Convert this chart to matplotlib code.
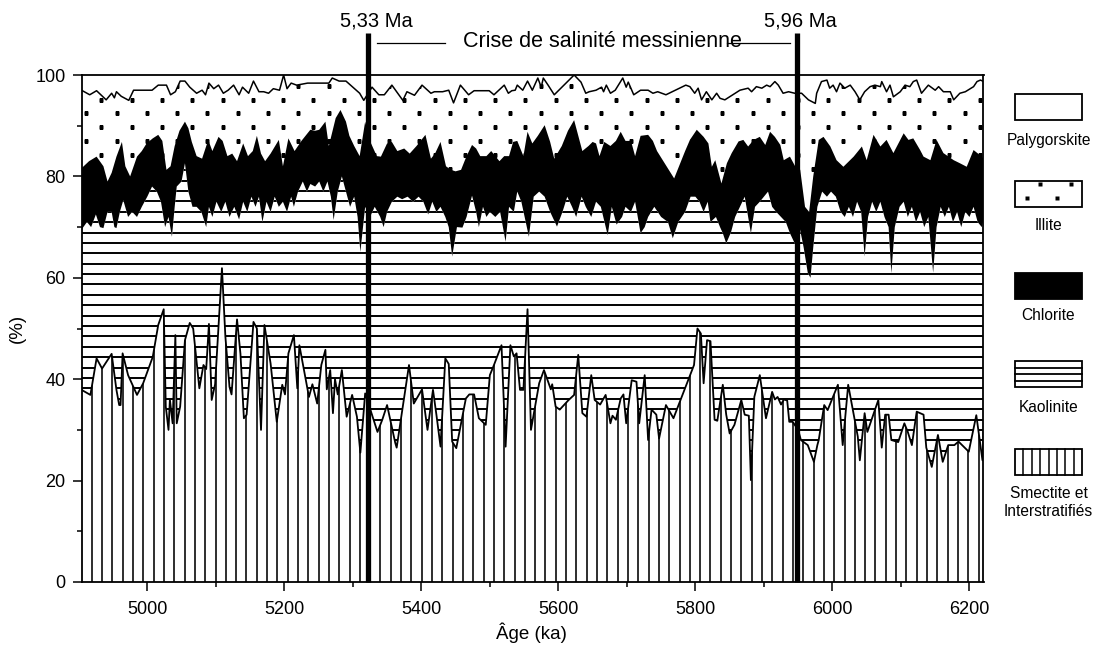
import numpy as np
import matplotlib
matplotlib.use("Agg")
from matplotlib import pyplot as plt
from matplotlib.lines import Line2D
from matplotlib.patches import Rectangle
from matplotlib.ticker import MultipleLocator

plt.rcParams['font.family'] = ['Liberation Sans', 'DejaVu Sans']

# cumulative percentages (top of each layer)
# smectite + interstratifies
smectite = [
    (4904, 37.9), (4917, 36.9), (4926, 44.1), (4934, 42.1), (4948, 45.0), (4955, 37.9), (4959, 34.9),
    (4961, 34.9), (4964, 45.1), (4972, 40.8), (4985, 36.9), (4994, 39.2), (5008, 44.4), (5016, 50.7),
    (5024, 53.8), (5027, 34.6), (5031, 30.0), (5033, 36.0), (5037, 31.3), (5041, 48.7), (5043, 31.3),
    (5048, 34.6), (5055, 47.7), (5062, 51.1), (5067, 50.0), (5076, 38.2), (5082, 42.8), (5086, 42.0),
    (5090, 50.9), (5094, 35.9), (5099, 39.0), (5109, 61.9), (5114, 48.4), (5120, 38.5), (5123, 37.0),
    (5131, 51.8), (5136, 45.0), (5141, 32.3), (5145, 33.0), (5155, 51.3), (5160, 50.0), (5166, 30.0),
    (5171, 50.7), (5180, 43.1), (5189, 31.6), (5197, 38.9), (5201, 37.0), (5206, 45.1), (5214, 48.7),
    (5219, 38.2), (5222, 46.7), (5236, 36.5), (5241, 39.0), (5248, 35.2), (5254, 42.8), (5260, 45.8),
    (5262, 38.0), (5267, 41.8), (5271, 33.3), (5274, 40.0), (5278, 37.0), (5284, 41.8), (5291, 32.6),
    (5299, 36.9), (5306, 32.6), (5311, 25.5), (5318, 37.2), (5328, 33.0), (5336, 29.6), (5343, 32.0),
    (5350, 34.9), (5362, 27.4), (5364, 26.5), (5382, 42.8), (5389, 35.2), (5401, 38.0), (5409, 30.0),
    (5417, 37.9), (5422, 33.0), (5428, 26.7), (5435, 44.1), (5440, 43.0), (5445, 27.7), (5451, 26.4),
    (5465, 36.2), (5470, 37.0), (5477, 37.0), (5484, 32.3), (5494, 31.0), (5500, 40.8), (5506, 42.8),
    (5517, 46.7), (5523, 26.7), (5530, 46.7), (5535, 44.5), (5539, 45.1), (5544, 37.9), (5549, 37.9),
    (5555, 53.8), (5560, 30.0), (5572, 39.2), (5579, 41.8), (5589, 38.0), (5591, 39.0), (5596, 34.6),
    (5602, 34.0), (5615, 35.9), (5623, 36.9), (5629, 44.8), (5635, 33.3), (5641, 32.6), (5648, 40.8),
    (5653, 35.9), (5661, 35.0), (5669, 36.9), (5676, 31.3), (5679, 32.8), (5684, 32.0), (5691, 36.2),
    (5695, 37.0), (5699, 31.3), (5707, 39.8), (5714, 39.5), (5718, 31.3), (5726, 40.8), (5731, 28.0),
    (5736, 34.0), (5743, 33.0), (5747, 28.3), (5757, 34.9), (5768, 32.3), (5798, 42.8), (5803, 50.0),
    (5808, 49.0), (5812, 39.2), (5817, 47.7), (5822, 47.5), (5828, 32.0), (5832, 31.8), (5840, 38.9),
    (5845, 33.0), (5850, 29.3), (5857, 31.0), (5867, 35.9), (5872, 33.0), (5878, 32.8), (5881, 20.1),
    (5886, 36.5), (5894, 40.8), (5903, 32.3), (5912, 37.5), (5916, 36.0), (5920, 36.5), (5925, 35.0),
    (5929, 36.0), (5934, 35.8), (5937, 31.6), (5942, 31.6), (5950, 30.0), (5954, 28.0), (5964, 27.0),
    (5973, 23.7), (5978, 27.0), (5980, 28.0), (5988, 34.9), (5993, 33.9), (6008, 38.9), (6015, 27.0),
    (6023, 38.9), (6037, 28.7), (6040, 24.0), (6047, 33.3), (6051, 29.6), (6067, 35.9), (6072, 26.5),
    (6077, 33.0), (6082, 33.0), (6086, 28.0), (6096, 27.6), (6105, 31.3), (6110, 29.6), (6116, 27.0),
    (6123, 33.6), (6128, 33.3), (6133, 33.0), (6137, 26.5), (6145, 22.7), (6154, 29.0), (6161, 23.7),
    (6169, 27.0), (6178, 27.0), (6184, 27.7), (6199, 25.7), (6210, 32.9), (6219, 24.0), (6221, 31.0),
]

# + kaolinite
kaolinite = [
    (4904, 69.5), (4912, 71), (4918, 70), (4925, 72.5), (4931, 70), (4936, 69.8), (4942, 73), (4948, 73),
    (4952, 70), (4955, 69.8), (4960, 73), (4965, 75.3), (4972, 72), (4978, 73), (4985, 72), (4992, 74),
    (5000, 76), (5007, 78), (5014, 77), (5020, 75), (5026, 70), (5031, 72), (5036, 68.1), (5040, 74),
    (5043, 78), (5050, 79), (5055, 82.6), (5060, 77), (5066, 74), (5072, 74), (5079, 73), (5086, 70),
    (5090, 74), (5095, 72), (5101, 75), (5108, 73), (5114, 75), (5120, 72), (5127, 74), (5134, 71.5),
    (5140, 75), (5146, 73), (5152, 76), (5158, 74), (5163, 76), (5168, 71), (5174, 75), (5180, 73),
    (5186, 76), (5192, 74), (5198, 75), (5204, 73), (5210, 76), (5214, 74), (5220, 77), (5227, 79),
    (5233, 77), (5238, 78.5), (5245, 78), (5251, 79), (5257, 77), (5263, 79), (5268, 76), (5272, 71.4),
    (5278, 77), (5284, 80), (5290, 77), (5296, 74), (5302, 76), (5307, 72), (5311, 65.1), (5318, 74),
    (5325, 72), (5332, 74), (5340, 72), (5345, 70), (5350, 73), (5357, 75), (5365, 76), (5372, 75.5),
    (5380, 76), (5388, 75), (5396, 76), (5403, 75), (5410, 72.5), (5416, 75), (5422, 73), (5428, 74),
    (5435, 72), (5440, 70), (5445, 64.2), (5452, 70), (5460, 69.9), (5466, 72), (5474, 76.2), (5480, 73),
    (5484, 70), (5490, 74), (5495, 72), (5500, 73), (5508, 72), (5515, 73), (5523, 67.1), (5528, 74),
    (5535, 73), (5540, 77), (5546, 75), (5557, 68.1), (5564, 76), (5572, 77), (5580, 76), (5588, 73),
    (5598, 70.1), (5606, 73), (5613, 76), (5620, 74), (5626, 72), (5634, 76), (5640, 74), (5648, 72),
    (5655, 75), (5662, 74), (5672, 68.4), (5678, 74), (5685, 70.5), (5693, 72), (5698, 74), (5706, 73),
    (5712, 75), (5720, 68.8), (5726, 70), (5731, 72), (5740, 74), (5750, 72), (5760, 71), (5767, 67.8),
    (5775, 71), (5785, 73), (5793, 76), (5800, 76), (5806, 75), (5812, 73), (5818, 75), (5822, 71),
    (5830, 72), (5836, 70), (5840, 68.8), (5845, 66.8), (5852, 69), (5858, 72), (5865, 74), (5872, 76),
    (5881, 68.8), (5887, 74), (5894, 75), (5900, 76), (5906, 77), (5912, 74), (5918, 73), (5925, 72),
    (5932, 71), (5938, 68.8), (5947, 66.2), (5952, 70), (5958, 66), (5964, 61), (5968, 60), (5972, 66),
    (5978, 74), (5985, 77), (5992, 76), (5998, 77), (6005, 76), (6012, 73), (6018, 72), (6024, 74),
    (6030, 72), (6036, 75), (6042, 73), (6047, 64.2), (6052, 72), (6058, 75), (6064, 73), (6070, 75),
    (6076, 72), (6082, 70), (6086, 60.9), (6091, 70), (6098, 74), (6104, 75), (6110, 72), (6116, 74),
    (6122, 71), (6128, 73), (6134, 70), (6140, 72), (6147, 61), (6152, 70), (6158, 74), (6164, 72),
    (6170, 74), (6176, 71), (6182, 73), (6188, 70), (6194, 73), (6200, 72), (6206, 74), (6212, 71),
    (6218, 70), (6221, 72),
]

# + chlorite
chlorite = [
    (4904, 81.6), (4915, 83), (4926, 83.9), (4936, 82), (4942, 79), (4948, 80.7), (4955, 83.9),
    (4963, 86.8), (4968, 82), (4975, 80), (4985, 83.9), (4992, 85), (4999, 86.5), (5008, 87.5),
    (5016, 88.2), (5022, 87), (5028, 81.3), (5034, 82), (5040, 86), (5047, 89), (5055, 90.8),
    (5060, 89.5), (5065, 86.8), (5072, 84), (5080, 83.5), (5089, 87.2), (5095, 85), (5104, 87.8),
    (5110, 87), (5117, 84), (5124, 84.5), (5131, 83), (5140, 86.5), (5147, 84), (5154, 85), (5160, 88),
    (5166, 84.5), (5172, 83), (5180, 84.5), (5192, 87.2), (5198, 82), (5206, 87.5), (5215, 85),
    (5225, 87), (5238, 89.2), (5245, 89), (5251, 89.2), (5260, 90.8), (5265, 86), (5275, 91.5),
    (5282, 93.1), (5290, 90.8), (5295, 88), (5302, 86), (5310, 84), (5318, 90.8), (5325, 87),
    (5335, 84), (5341, 83.9), (5350, 86.5), (5357, 86.8), (5365, 85), (5375, 85.5), (5383, 84.5),
    (5393, 86), (5406, 88.2), (5414, 83.5), (5420, 84.5), (5428, 86.8), (5436, 82), (5443, 81.3),
    (5450, 81), (5458, 81.3), (5466, 84), (5474, 86.2), (5480, 85.5), (5486, 84), (5495, 84),
    (5502, 85), (5508, 84), (5514, 83), (5521, 84), (5528, 84), (5534, 86.8), (5540, 87), (5549, 84),
    (5555, 88.8), (5562, 86.5), (5570, 88), (5580, 90.1), (5588, 86.8), (5594, 83.5), (5605, 86),
    (5614, 89), (5623, 91.1), (5635, 85), (5644, 86), (5650, 86.8), (5655, 86.5), (5660, 84),
    (5667, 86.8), (5676, 86), (5684, 87), (5691, 88.8), (5698, 87), (5706, 87), (5712, 84), (5720, 88),
    (5731, 88.2), (5738, 87), (5744, 85), (5769, 79.6), (5785, 85), (5792, 87.2), (5802, 89.2),
    (5812, 87.8), (5819, 86.5), (5824, 81.9), (5829, 83.2), (5838, 78.6), (5846, 82.6), (5853, 84.6),
    (5863, 86.9), (5870, 87.2), (5877, 85.9), (5885, 87.2), (5894, 87.8), (5902, 86.2), (5909, 88.8),
    (5916, 87.8), (5924, 86.2), (5929, 83.2), (5938, 83.9), (5946, 81.9), (5953, 81.3), (5960, 74),
    (5966, 73), (5972, 80), (5980, 87.2), (5987, 87.8), (5997, 85.9), (6006, 83.2), (6016, 81.9),
    (6031, 83.9), (6043, 85.9), (6050, 83.2), (6060, 88.2), (6070, 85.9), (6079, 87.2), (6089, 84.6),
    (6104, 88.5), (6111, 87.2), (6118, 87.5), (6128, 85.2), (6133, 83.9), (6143, 83.2), (6152, 87.2),
    (6162, 84.6), (6177, 83.2), (6186, 82.6), (6196, 81.9), (6206, 85.2), (6218, 83.9), (6221, 83.5),
]

# + illite (palygorskite fills the rest up to 100)
illite = [
    (4904, 97.0), (4916, 96.1), (4926, 96.9), (4940, 95.1), (4948, 96.4), (4952, 95.5), (4955, 96.7),
    (4962, 95.8), (4973, 95.0), (4980, 97.0), (5007, 97.0), (5016, 98.0), (5028, 98.0), (5034, 96.1),
    (5041, 96.7), (5048, 98.8), (5055, 98.8), (5062, 97.6), (5072, 96.4), (5080, 97.0), (5085, 96.1),
    (5090, 98.4), (5097, 97.3), (5104, 98.0), (5111, 96.4), (5118, 97.0), (5126, 98.0), (5134, 96.1),
    (5139, 97.6), (5148, 96.4), (5155, 98.8), (5163, 96.7), (5170, 96.7), (5177, 96.4), (5184, 97.3),
    (5193, 97.0), (5199, 100.0), (5204, 97.3), (5210, 98.4), (5218, 98.0), (5234, 98.4), (5265, 98.4),
    (5270, 99.4), (5280, 98.8), (5290, 98.8), (5300, 97.6), (5310, 96.4), (5316, 95.0), (5328, 97.6),
    (5338, 96.1), (5346, 96.1), (5357, 98.0), (5373, 95.0), (5379, 96.7), (5390, 96.0), (5401, 98.0),
    (5414, 96.4), (5419, 96.7), (5431, 96.7), (5440, 97.0), (5447, 94.5), (5457, 98.0), (5469, 96.1),
    (5477, 96.9), (5499, 96.9), (5506, 96.1), (5521, 98.0), (5527, 96.4), (5532, 96.9), (5537, 97.0),
    (5540, 98.0), (5548, 97.0), (5555, 98.8), (5562, 97.0), (5570, 99.4), (5575, 97.6), (5578, 99.4),
    (5585, 98.0), (5594, 96.1), (5623, 100.0), (5633, 98.6), (5640, 96.4), (5645, 96.7), (5655, 97.0),
    (5663, 97.6), (5666, 96.7), (5670, 98.0), (5676, 96.4), (5683, 97.0), (5694, 99.4), (5699, 97.6),
    (5702, 98.6), (5710, 96.1), (5720, 97.0), (5731, 97.0), (5738, 96.4), (5745, 96.7), (5757, 96.1),
    (5786, 98.0), (5792, 97.7), (5799, 96.4), (5804, 97.4), (5809, 95.1), (5816, 96.7), (5824, 95.1),
    (5831, 96.4), (5836, 95.4), (5843, 95.1), (5865, 97.0), (5877, 97.4), (5882, 96.7), (5889, 97.7),
    (5897, 97.4), (5904, 98.0), (5909, 97.7), (5916, 98.7), (5921, 98.0), (5928, 96.4), (5936, 96.7),
    (5945, 96.4), (5955, 96.4), (5965, 95.1), (5975, 94.4), (5977, 96.4), (5984, 98.7), (5992, 99.0),
    (5996, 97.4), (6001, 98.0), (6006, 96.7), (6011, 98.4), (6018, 97.4), (6026, 98.0), (6033, 96.7),
    (6040, 95.1), (6047, 96.7), (6055, 97.7), (6062, 98.0), (6070, 97.7), (6072, 98.7), (6079, 96.7),
    (6084, 98.0), (6089, 95.7), (6099, 96.7), (6106, 98.0), (6113, 97.7), (6118, 98.7), (6123, 99.0),
    (6130, 96.4), (6140, 98.0), (6150, 97.0), (6155, 97.7), (6162, 96.7), (6172, 96.7), (6177, 95.1),
    (6186, 96.4), (6194, 96.7), (6206, 97.7), (6211, 98.7), (6216, 99.0), (6221, 98.7),
]

events = [5322, 5949]  # thick lines, 5,33 and 5,96 Ma
event_labels = ['5,33 Ma', '5,96 Ma']
legend_labels = ['Palygorskite', 'Illite', 'Chlorite', 'Kaolinite', 'Smectite et\nInterstratifiés']

s_age, s_val = np.array(smectite).T
k_age, k_val = np.array(kaolinite).T
c_age, c_val = np.array(chlorite).T
i_age, i_val = np.array(illite).T

W, H = 1103, 645
fig = plt.figure(figsize=(W / 100, H / 100), dpi=100)
ax = fig.add_axes([81.5 / W, 63 / H, 902 / W, 507 / H])
x0, x1 = 4904, 6220.5


def layer(age, top, color, z):
    coll = ax.fill_between(age, 0, top, facecolor=color, edgecolor='none', lw=0, zorder=z)
    return coll.get_paths()[0]


# illite (dotted), drawn from 0 and covered by the layers below it
ipath = layer(i_age, i_val, 'white', 1)
rows = 97.9 - 2.74 * np.arange(14)
for n, yv in enumerate(rows):
    xs = np.arange(4911 + 22.1 * (n % 2), x1, 44.2)
    dots, = ax.plot(xs, np.full_like(xs, yv), 's', ms=2.8, mfc='k', mec='none', zorder=1.5)
    dots.set_clip_path(ipath, ax.transData)

# chlorite
layer(c_age, c_val, 'black', 2)

# kaolinite (horizontal lines)
kpath = layer(k_age, k_val, 'white', 3)
hl = ax.hlines(np.arange(1.28, 100, 2.05), x0, x1, color='k', lw=1.4, zorder=3.5)
hl.set_clip_path(kpath, ax.transData)

# smectite (vertical lines)
spath = layer(s_age, s_val, 'white', 4)
vl = ax.vlines(np.arange(4919, x1, 15.05), 0, 100, color='k', lw=1.15, zorder=4.5)
vl.set_clip_path(spath, ax.transData)

ax.plot(s_age, s_val, color='k', lw=1.3, zorder=5)
ax.plot(i_age, i_val, color='k', lw=1.1, zorder=5)

for a in events:
    ax.plot([a, a], [0, 108.3], color='k', lw=3.8, zorder=10, clip_on=False,
            solid_capstyle='butt')

ax.set_xlim(x0, x1)
ax.set_ylim(0, 100)
ax.set_xticks(np.arange(5000, 6201, 200))
ax.xaxis.set_minor_locator(MultipleLocator(100))
ax.set_yticks(np.arange(0, 101, 20))
ax.yaxis.set_minor_locator(MultipleLocator(10))
ax.tick_params(which='major', direction='out', length=6.5, width=1.1, labelsize=13)
ax.tick_params(which='minor', direction='out', length=3.5, width=1.1)
ax.tick_params(axis='x', pad=7)
ax.tick_params(axis='y', pad=5)
for sp in ax.spines.values():
    sp.set_linewidth(1.3)
    sp.set_zorder(8)

fig.text(531 / W, 1 - 633 / H, 'Âge (ka)', ha='center', va='center', fontsize=13.5)
fig.text(17 / W, 1 - 328 / H, '(%)', ha='center', va='center', rotation=90, fontsize=13.5)

# top annotation
fig.text(376.5 / W, 1 - 26.7 / H, event_labels[0], ha='center', va='baseline', fontsize=14.5)
fig.text(800 / W, 1 - 26.7 / H, event_labels[1], ha='center', va='baseline', fontsize=14.5)
fig.text(602 / W, 1 - 47 / H, 'Crise de salinité messinienne', ha='center', va='baseline',
         fontsize=15.5)
for xa, xb in [(377, 445), (727, 790)]:
    fig.add_artist(Line2D([xa / W, xb / W], [1 - 43 / H] * 2, color='k', lw=0.9))

# legend drawn in pixel coordinates
lax = fig.add_axes([0, 0, 1, 1], zorder=-1)
lax.set_xlim(0, W)
lax.set_ylim(H, 0)
lax.axis('off')
bx, bw, bh = 1015, 67, 26
box_tops = [94, 181, 273, 361, 449]
label_y = [[140], [226], [316], [407], [493, 512]]
for top, ys, lab in zip(box_tops, label_y, legend_labels):
    for y, part in zip(ys, lab.split('\n')):
        lax.text(bx + bw / 2, y, part, ha='center', va='center', fontsize=11.2)

lax.add_patch(Rectangle((bx, box_tops[0]), bw, bh, fc='white', ec='k', lw=1.3))
lax.add_patch(Rectangle((bx, box_tops[1]), bw, bh, fc='white', ec='k', lw=1.3))
lax.plot([1040, 1070.7], [box_tops[1] + 2.5] * 2, 's', ms=2.8, mfc='k', mec='none')
lax.plot([1026.7, 1056.7], [box_tops[1] + 17] * 2, 's', ms=2.8, mfc='k', mec='none')
lax.add_patch(Rectangle((bx, box_tops[2]), bw, bh, fc='black', ec='k', lw=1.3))
lax.add_patch(Rectangle((bx, box_tops[3]), bw, bh, fc='white', ec='k', lw=1.3))
for k in range(1, 4):
    lax.plot([bx, bx + bw], [box_tops[3] + bh * k / 4] * 2, color='k', lw=1.3)
lax.add_patch(Rectangle((bx, box_tops[4]), bw, bh, fc='white', ec='k', lw=1.3))
for k in range(1, 8):
    lax.plot([bx + bw * k / 8] * 2, [box_tops[4], box_tops[4] + bh], color='k', lw=1.1)

fig.savefig('out.png', dpi=100)
